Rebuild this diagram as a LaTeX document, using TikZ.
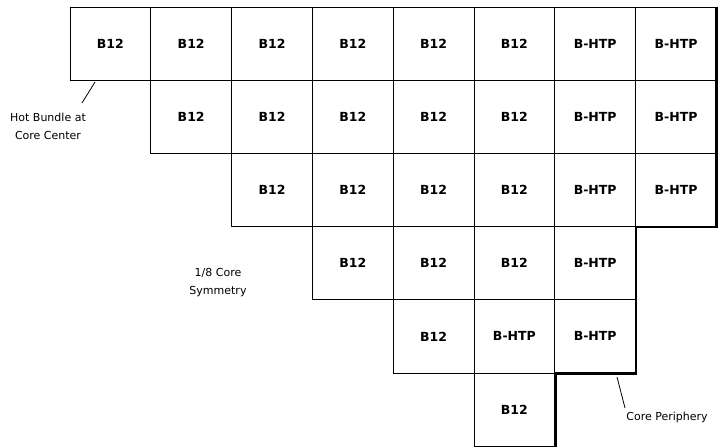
\documentclass[tikz,border=0pt]{standalone}
\usepackage{fontspec}
\setmainfont{DejaVu Sans}
\tikzset{
  cell/.style={draw, line width=0.9pt, minimum width=80.8pt, minimum height=73.2pt,
    inner sep=0pt, font=\bfseries\fontsize{12.5}{14}\selectfont},
  note/.style={align=center, inner sep=0pt, font=\fontsize{11}{18}\selectfont},
  leader/.style={line width=0.8pt},
  periph/.style={line width=2.8pt, line cap=square}
}

\begin{document}
\begin{tikzpicture}[x=1pt, y=-1pt]
\useasboundingbox (0,0) rectangle (722,447);
% fuel bundles, one row at a time: row / first col / last col / first B-HTP col
\foreach \r/\first/\last/\hot in {0/0/7/6, 1/1/7/6, 2/2/7/6, 3/3/6/6, 4/4/6/5, 5/5/5/9}
  \foreach \c in {\first,...,\last}
    \node[cell] (c\r\c) at ({70+80.8*(\c+0.5)}, {7+73.2*(\r+0.5)})
      {\ifnum\c<\hot B12\else B-HTP\fi};
% core periphery
\draw[periph] (c07.north east) -- (c27.south east) -- (c26.south east)
  -- (c46.south east) -- (c45.south east) -- (c55.south east);
% labels
\node[note] (hotlbl) at (48,126) {Hot Bundle at\\Core Center};
\coordinate (hottip) at (95,82);
\coordinate (hotfoot) at (82,103);
\draw[leader] (hottip) -- (hotfoot);
\node[note] (symlbl) at (218,283) {1/8 Core\\Symmetry};
\node[note] (perlbl) at (667,417) {Core Periphery};
\coordinate (pertip) at (617,377);
\coordinate (perfoot) at (625,408);
\draw[leader] (pertip) -- (perfoot);
\end{tikzpicture}
\end{document}
